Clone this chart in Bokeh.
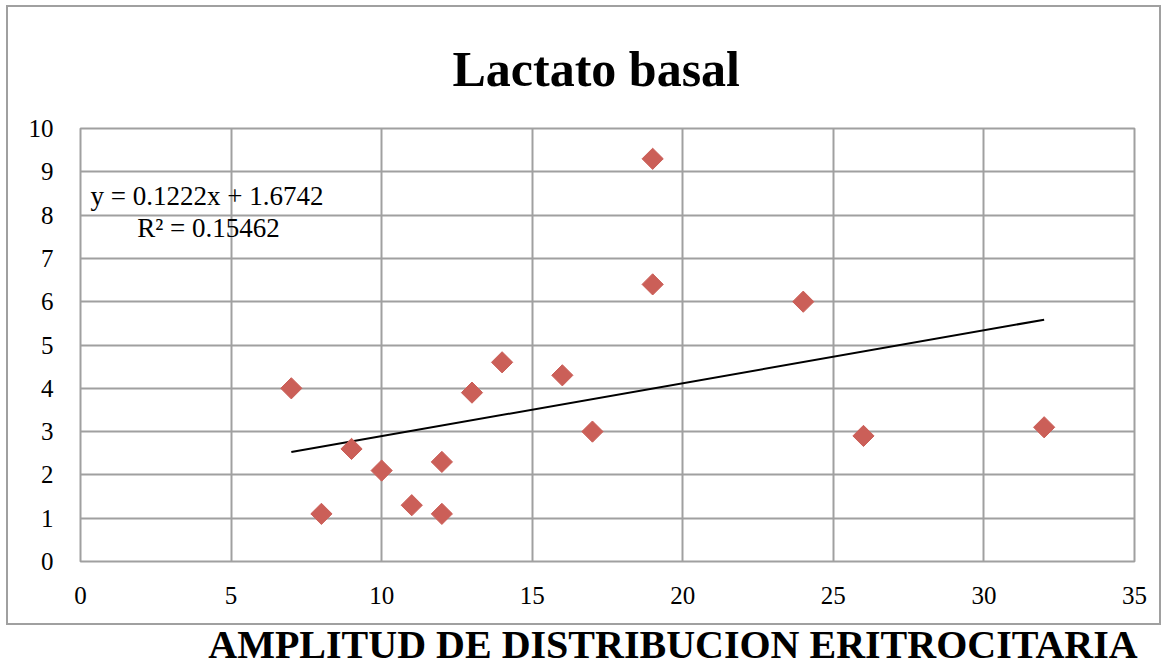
from bokeh.plotting import figure
from bokeh.models import Range1d, FixedTicker, Label, Div
from bokeh.layouts import column
from bokeh.embed import file_html
from bokeh.resources import INLINE
import numpy as np

# ---- data ----
amplitud = [7, 8, 9, 10, 11, 12, 12, 13, 14, 16, 17, 19, 19, 24, 26, 32]
lactato = [4.0, 1.1, 2.6, 2.1, 1.3, 1.1, 2.3, 3.9, 4.6, 4.3, 3.0, 9.3, 6.4, 6.0, 2.9, 3.1]
slope = 0.1222
intercept = 1.6742
r2 = 0.15462
x_ticks = [0, 5, 10, 15, 20, 25, 30, 35]
y_ticks = [0, 1, 2, 3, 4, 5, 6, 7, 8, 9, 10]
title_text = "Lactato basal"
xlabel_text = "AMPLITUD DE DISTRIBUCION ERITROCITARIA"

GRID = "#a0a0a0"
SERIF = "Liberation Serif"

p = figure(width=1155, height=620, output_backend="svg", toolbar_location=None,
           x_range=Range1d(0, 35), y_range=Range1d(0, 10),
           min_border_left=72, min_border_right=29, min_border_top=121, min_border_bottom=66,
           margin=(5, 0, 0, 6),
           styles={"border": "2px solid #a0a0a0"})
p.background_fill_color = "white"
p.border_fill_color = "white"
p.outline_line_color = GRID
p.outline_line_width = 2

p.title.text = title_text
p.title.align = "left"
p.title.vertical_align = "top"
p.title.text_font = SERIF
p.title.text_font_style = "bold"
p.title.text_font_size = "50px"
p.title.text_color = "black"
p.title.standoff = 60
p.title.offset = 372

for ax in (p.xaxis[0], p.yaxis[0]):
    ax.axis_line_color = None
    ax.major_tick_line_color = None
    ax.minor_tick_line_color = None
    ax.major_tick_out = 0
    ax.major_tick_in = 0
    ax.minor_tick_out = 0
    ax.major_label_text_font = SERIF
    ax.major_label_text_font_size = "25px"
    ax.major_label_text_color = "black"
p.xaxis.ticker = FixedTicker(ticks=x_ticks)
p.yaxis.ticker = FixedTicker(ticks=y_ticks)
p.xaxis.major_label_standoff = 25
p.yaxis.major_label_standoff = 27

p.xgrid.ticker = FixedTicker(ticks=x_ticks)
p.ygrid.ticker = FixedTicker(ticks=y_ticks)
for g in (p.xgrid[0], p.ygrid[0]):
    g.grid_line_color = GRID
    g.grid_line_width = 2

# trend line
xs = np.array([min(amplitud), max(amplitud)], dtype=float)
p.line(xs, slope * xs + intercept, line_color="black", line_width=2)

# points
p.scatter(amplitud, lactato, marker="square", angle=np.pi / 4, size=15,
          fill_color="#CB5F58", line_color="#CB5F58")

# equation labels
p.add_layout(Label(x=4.2, y=8.43, text=f"y = {slope}x + {intercept}", text_align="center",
                   text_baseline="middle", text_font=SERIF, text_font_size="27px", text_color="black"))
p.add_layout(Label(x=4.25, y=7.71, text=f"R² = {r2}", text_align="center",
                   text_baseline="middle", text_font=SERIF, text_font_size="27px", text_color="black"))

label_div = Div(text=xlabel_text, width=982, height=33, margin=(3, 0, 0, 182),
                styles={"font-family": SERIF, "font-size": "40px", "font-weight": "bold",
                        "text-align": "center", "line-height": "33px", "color": "black",
                        "white-space": "nowrap"})

layout = column(p, label_div, spacing=0)
open("out.html", "w").write(file_html(layout, INLINE))
